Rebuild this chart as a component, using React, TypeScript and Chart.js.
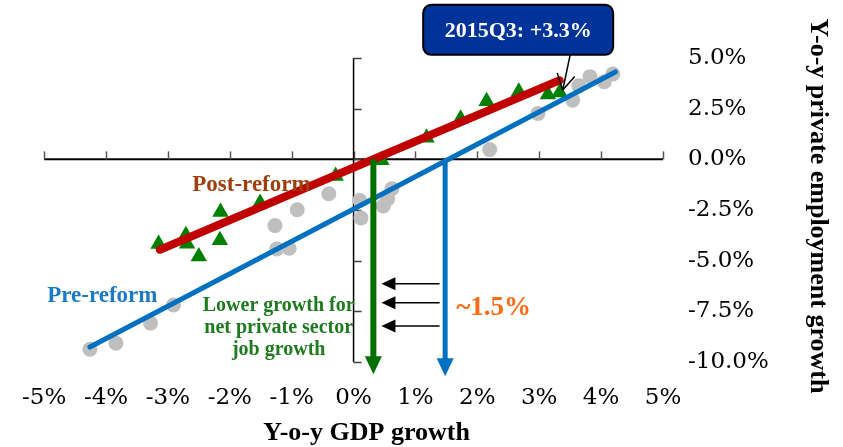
import React, { useEffect, useRef } from 'react';
import { Chart, registerables } from 'chart.js';

Chart.register(...registerables);

// ---- axis ranges and tick labels ----
const xTickValues = [-5, -4, -3, -2, -1, 0, 1, 2, 3, 4, 5];
const xTickLabels = ['-5%', '-4%', '-3%', '-2%', '-1%', '0%', '1%', '2%', '3%', '4%', '5%'];
const yTickValues = [-10, -7.5, -5, -2.5, 0, 2.5, 5];
const yTickLabels = ['-10.0%', '-7.5%', '-5.0%', '-2.5%', '0.0%', '2.5%', '5.0%'];
const xAxisTitle = 'Y-o-y GDP growth';
const yAxisTitle = 'Y-o-y private employment growth';

// ---- pre-reform observations (grey circles) ----
const preReformGdp = [-4.26, -3.84, -3.28, -2.91, -1.27, -1.24, -1.04, -0.91, -0.4, 0.1, 0.12, 0.48, 0.55, 0.62, 2.2, 2.98, 3.54, 3.64, 3.82, 4.05, 4.19];
const preReformEmp = [-9.37, -9.07, -8.08, -7.19, -3.27, -4.42, -4.39, -2.49, -1.7, -2.03, -2.89, -2.3, -1.95, -1.45, 0.48, 2.26, 2.92, 3.63, 4.08, 3.83, 4.21];

// ---- post-reform observations (green triangles) ----
const postReformGdp = [-3.15, -2.71, -2.69, -2.5, -2.16, -2.15, -1.51, -0.29, 0.45, 1.18, 1.73, 2.15, 2.67, 3.14, 3.33];
const postReformEmp = [-4.18, -3.74, -4.17, -4.8, -3.99, -2.6, -2.15, -0.82, -0.05, 1.06, 2.0, 2.87, 3.34, 3.2, 3.3];

// ---- fitted lines ----
const preFitGdp = [-4.26, 4.23];
const preFitEmp = [-9.26, 4.31];
const postFitGdp = [-3.13, 3.33];
const postFitEmp = [-4.46, 3.9];

// ---- annotations ----
const interceptGdp = [0.32, 1.48]; // post-reform, pre-reform x-intercepts
const interceptArrowEnd = [-10.6, -10.7];
const shiftArrowEmp = [-6.14, -7.08, -8.22];
const shiftArrowGdp = [1.39, 0.45]; // from, to
const calloutText = '2015Q3: +3.3%';
const calloutCenter = [2.66, 6.39];
const calloutTail = [3.5, 5.15];
const calloutTip = [3.38, 3.42];
const postLabel = 'Post-reform';
const postLabelPos = [-1.65, -1.29];
const preLabel = 'Pre-reform';
const preLabelPos = [-4.06, -6.73];
const gapLines = ['Lower growth for', 'net private sector', 'job growth'];
const gapLinesPos = [-1.21, -7.23];
const gapValue = '~1.5%';
const gapValuePos = [1.66, -7.33];

const zip = (xs: number[], ys: number[]) => xs.map((x, i) => ({ x, y: ys[i] }));

const BOLD = '"Liberation Serif", "DejaVu Serif", serif';

function fillHead(ctx: CanvasRenderingContext2D, tx: number, ty: number, dx: number, dy: number, len: number, w: number) {
  const nx = -dy, ny = dx;
  const bx = tx - dx * len, by = ty - dy * len;
  ctx.beginPath();
  ctx.moveTo(tx, ty);
  ctx.lineTo(bx + nx * w / 2, by + ny * w / 2);
  ctx.lineTo(bx - nx * w / 2, by - ny * w / 2);
  ctx.closePath();
  ctx.fill();
}

const overlay = {
  id: 'overlay',
  beforeDatasetsDraw(chart: any) {
    const { ctx, scales } = chart;
    const xs = scales.x, ys = scales.y;
    const x0 = xs.getPixelForValue(0);
    const y0 = ys.getPixelForValue(0);
    ctx.save();
    // horizontal axis through zero
    ctx.strokeStyle = '#000';
    ctx.lineWidth = 2;
    ctx.beginPath();
    ctx.moveTo(xs.getPixelForValue(xTickValues[0]), y0);
    ctx.lineTo(xs.getPixelForValue(xTickValues[xTickValues.length - 1]), y0);
    ctx.stroke();
    ctx.strokeStyle = '#595959';
    ctx.lineWidth = 1.5;
    xTickValues.forEach((v) => {
      const px = Math.round(xs.getPixelForValue(v)) + 0.5;
      ctx.beginPath();
      ctx.moveTo(px, y0);
      ctx.lineTo(px, y0 - 8);
      ctx.stroke();
    });
    // vertical axis through zero
    ctx.strokeStyle = '#000';
    ctx.lineWidth = 1.5;
    ctx.beginPath();
    ctx.moveTo(x0, ys.getPixelForValue(yTickValues[yTickValues.length - 1]));
    ctx.lineTo(x0, ys.getPixelForValue(yTickValues[0]));
    ctx.stroke();
    ctx.strokeStyle = '#404040';
    yTickValues.forEach((v) => {
      const py = Math.round(ys.getPixelForValue(v)) + 0.5;
      ctx.beginPath();
      ctx.moveTo(x0, py);
      ctx.lineTo(x0 + 8, py);
      ctx.stroke();
    });
    ctx.restore();
  },
  afterDatasetsDraw(chart: any) {
    const { ctx, scales, chartArea } = chart;
    const xs = scales.x, ys = scales.y;
    const px = (v: number) => xs.getPixelForValue(v);
    const py = (v: number) => ys.getPixelForValue(v);
    ctx.save();

    // vertical intercept arrows
    const arrowColors = ['#006E00', '#0070C0'];
    interceptGdp.forEach((g, i) => {
      const x = px(g);
      const top = py(0);
      const tip = py(interceptArrowEnd[i]);
      ctx.strokeStyle = arrowColors[i];
      ctx.fillStyle = arrowColors[i];
      ctx.lineWidth = i === 0 ? 6 : 5;
      ctx.beginPath();
      ctx.moveTo(x, top);
      ctx.lineTo(x, tip - 14);
      ctx.stroke();
      fillHead(ctx, x, tip, 0, 1, 18, 17);
    });

    // three small black arrows pointing left
    ctx.strokeStyle = '#000';
    ctx.fillStyle = '#000';
    ctx.lineWidth = 1.5;
    shiftArrowEmp.forEach((e) => {
      const y = py(e);
      const from = px(shiftArrowGdp[0]);
      const to = px(shiftArrowGdp[1]);
      ctx.beginPath();
      ctx.moveTo(from, y);
      ctx.lineTo(to + 10, y);
      ctx.stroke();
      fillHead(ctx, to, y, -1, 0, 14, 13);
    });

    // labels
    ctx.textAlign = 'center';
    ctx.textBaseline = 'middle';
    ctx.font = `bold 23px ${BOLD}`;
    ctx.fillStyle = '#9E3F0E';
    ctx.fillText(postLabel, px(postLabelPos[0]), py(postLabelPos[1]));
    ctx.fillStyle = '#1C7AC6';
    ctx.fillText(preLabel, px(preLabelPos[0]), py(preLabelPos[1]));

    ctx.font = `bold 20px ${BOLD}`;
    ctx.fillStyle = '#1E7A1E';
    gapLines.forEach((t, i) => {
      ctx.fillText(t, px(gapLinesPos[0]), py(gapLinesPos[1]) + i * 22);
    });

    ctx.textAlign = 'left';
    ctx.font = `bold 27px ${BOLD}`;
    ctx.fillStyle = '#FF6A13';
    ctx.fillText(gapValue, px(gapValuePos[0]), py(gapValuePos[1]));

    // callout
    const cx = px(calloutCenter[0]);
    const cy = py(calloutCenter[1]);
    const bw = 190, bh = 50;
    ctx.beginPath();
    (ctx as any).roundRect(cx - bw / 2, cy - bh / 2, bw, bh, 8);
    ctx.fillStyle = '#003399';
    ctx.fill();
    ctx.strokeStyle = '#000';
    ctx.lineWidth = 2;
    ctx.stroke();
    ctx.fillStyle = '#fff';
    ctx.textAlign = 'center';
    ctx.font = `bold 22px ${BOLD}`;
    ctx.fillText(calloutText, cx, cy + 1);

    const tx = px(calloutTail[0]), ty = py(calloutTail[1]);
    const hx = px(calloutTip[0]), hy = py(calloutTip[1]);
    ctx.strokeStyle = '#000';
    ctx.lineWidth = 1.5;
    ctx.beginPath();
    ctx.moveTo(tx, ty);
    ctx.lineTo(hx, hy);
    ctx.stroke();
    const ang = Math.atan2(ty - hy, tx - hx);
    [-0.52, 0.52].forEach((d) => {
      ctx.beginPath();
      ctx.moveTo(hx, hy);
      ctx.lineTo(hx + Math.cos(ang + d) * 18, hy + Math.sin(ang + d) * 18);
      ctx.stroke();
    });

    // axis titles
    ctx.fillStyle = '#000';
    ctx.font = `bold 26px ${BOLD}`;
    ctx.textAlign = 'center';
    ctx.textBaseline = 'middle';
    ctx.fillText(xAxisTitle, (chartArea.left + chartArea.right) / 2 + 13, chart.height - 14);
    ctx.save();
    ctx.translate(chart.width - 25, (chartArea.top + chartArea.bottom) / 2 - 4);
    ctx.rotate(Math.PI / 2);
    ctx.fillText(yAxisTitle, 0, 0);
    ctx.restore();

    ctx.restore();
  },
};

export default function App() {
  const ref = useRef<HTMLCanvasElement>(null);
  useEffect(() => {
    const canvas = ref.current;
    if (!canvas) return;
    const chart = new Chart(canvas, {
      type: 'scatter',
      data: {
        datasets: [
          {
            label: 'Pre-reform fit',
            data: zip(preFitGdp, preFitEmp),
            showLine: true,
            borderColor: '#0070C0',
            borderWidth: 5,
            borderCapStyle: 'round',
            pointRadius: 0,
          },
          {
            label: 'Post-reform fit',
            data: zip(postFitGdp, postFitEmp),
            showLine: true,
            borderColor: '#C00000',
            borderWidth: 8,
            borderCapStyle: 'round',
            pointRadius: 0,
          },
          {
            label: 'Post-reform',
            data: zip(postReformGdp, postReformEmp),
            pointStyle: 'triangle',
            pointRadius: 9.5,
            backgroundColor: '#008000',
            borderWidth: 0,
          },
          {
            label: 'Pre-reform',
            data: zip(preReformGdp, preReformEmp),
            pointStyle: 'circle',
            pointRadius: 7.5,
            backgroundColor: '#BFBFBF',
            borderWidth: 0,
          },
        ],
      } as any,
      options: {
        animation: false,
        responsive: false,
        devicePixelRatio: 1,
        layout: { padding: { left: 42, top: 58, right: 0, bottom: 0 } },
        plugins: { legend: { display: false }, tooltip: { enabled: false } },
        scales: {
          x: {
            type: 'linear',
            position: 'bottom',
            min: xTickValues[0],
            max: xTickValues[xTickValues.length - 1],
            grid: { display: false, drawTicks: false },
            border: { display: false },
            ticks: {
              stepSize: 1,
              padding: 22,
              maxRotation: 0,
              autoSkip: false,
              color: '#000',
              font: { family: '"DejaVu Serif", serif', size: 23 },
              callback: (v: any) => xTickLabels[xTickValues.indexOf(Number(v))] ?? '',
            },
            afterFit: (s: any) => { s.height = 85; },
          },
          y: {
            type: 'linear',
            position: 'right',
            min: yTickValues[0],
            max: yTickValues[yTickValues.length - 1],
            grid: { display: false, drawTicks: false },
            border: { display: false },
            ticks: {
              stepSize: 2.5,
              padding: 25,
              color: '#000',
              font: { family: '"DejaVu Serif", serif', size: 23 },
              callback: (v: any) => yTickLabels[yTickValues.indexOf(Number(v))] ?? '',
            },
            afterFit: (s: any) => { s.width = 180; },
          },
        },
      } as any,
      plugins: [overlay],
    });
    return () => chart.destroy();
  }, []);
  return (
    <div style={{ position: 'absolute', left: 0, top: 0, width: 843, height: 447, background: '#fff' }}>
      <canvas ref={ref} width={843} height={447} style={{ display: 'block', width: 843, height: 447 }} />
    </div>
  );
}
